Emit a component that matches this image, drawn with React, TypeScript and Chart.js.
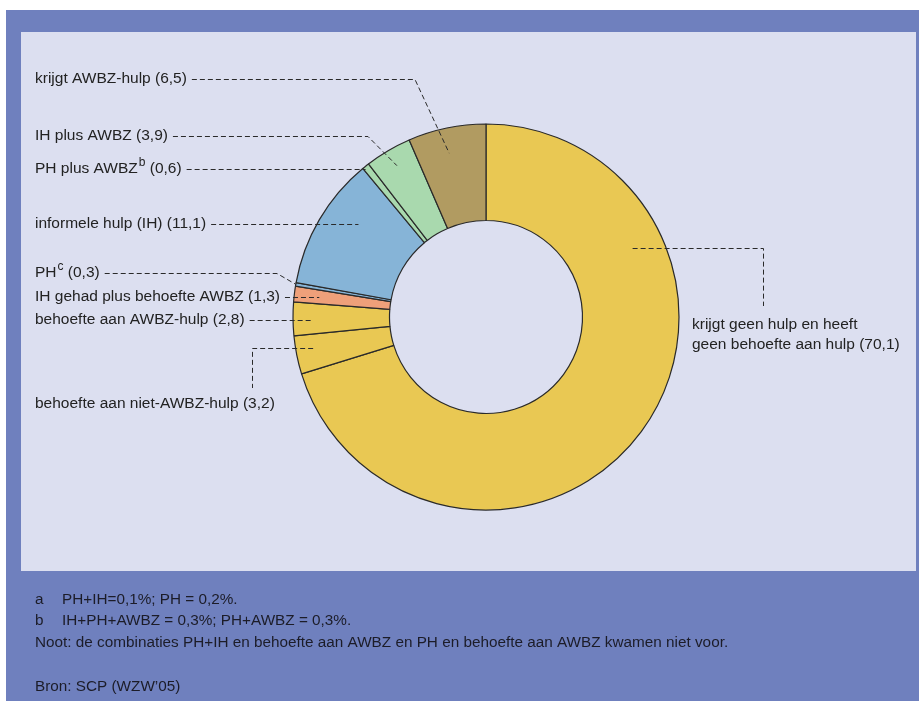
import React, { useEffect, useRef } from "react";
import { Chart, registerables } from "chart.js";
Chart.register(...registerables);

// ---- data ----
const categories = [
  "krijgt geen hulp en heeft geen behoefte aan hulp",
  "behoefte aan niet-AWBZ-hulp",
  "behoefte aan AWBZ-hulp",
  "IH gehad plus behoefte AWBZ",
  "PH",
  "informele hulp (IH)",
  "PH plus AWBZ",
  "IH plus AWBZ",
  "krijgt AWBZ-hulp",
];
const values = [70.1, 3.2, 2.8, 1.3, 0.3, 11.1, 0.6, 3.9, 6.5];
const valueLabels = ["70,1", "3,2", "2,8", "1,3", "0,3", "11,1", "0,6", "3,9", "6,5"];
const superscripts = ["", "", "", "", "c", "", "b", "", ""];
const footnoteKeys = ["a", "b", "", ""];
const footnoteTexts = [
  "PH+IH=0,1%; PH = 0,2%.",
  "IH+PH+AWBZ = 0,3%; PH+AWBZ = 0,3%.",
  "Noot: de combinaties PH+IH en behoefte aan AWBZ en PH en behoefte aan AWBZ kwamen niet voor.",
  "Bron: SCP (WZW\u201905)",
];

// ---- styles / layout ----
const colors = ["#e9c853", "#e9c853", "#e9c853", "#eea07a", "#86b4d7", "#86b4d7", "#a9d9ae", "#a9d9ae", "#b19b61"];
const W = 919;
const H = 701;
const FONT = "15.5px 'Liberation Sans', Arial, sans-serif";
const SUPFONT = "12px 'Liberation Sans', Arial, sans-serif";
const INK = "#222222";

type Lay = { x: number; y: number; frac: number; rf: number; kind: string; bx?: number; by?: number; multi?: string[] };
const layout: Lay[] = [
  { x: 692, y: 325, frac: 0.256, rf: 0.84, kind: "hv", bx: 763, by: 306, multi: ["krijgt geen hulp en heeft", "geen behoefte aan hulp (70,1)"] },
  { x: 35, y: 404, frac: 0.6, rf: 0.91, kind: "hvdown", bx: 252, by: 388 },
  { x: 35, y: 320, frac: 0.5, rf: 0.9, kind: "h" },
  { x: 35, y: 297, frac: 0.5, rf: 0.87, kind: "h" },
  { x: 35, y: 273, frac: 0.5, rf: 1.0, kind: "bend", bx: 277 },
  { x: 35, y: 224, frac: 0.65, rf: 0.82, kind: "h" },
  { x: 35, y: 169, frac: 0.5, rf: 1.0, kind: "h" },
  { x: 35, y: 136, frac: 0.5, rf: 0.91, kind: "bend", bx: 368 },
  { x: 35, y: 79, frac: 0.46, rf: 0.87, kind: "bend", bx: 415 },
];
const footY = [600, 621, 643, 687];

const px = (v: number) => Math.round(v) + 0.5;

const decor = {
  id: "decor",
  beforeDraw(chart: any) {
    const ctx = chart.ctx;
    ctx.save();
    ctx.fillStyle = "#ffffff";
    ctx.fillRect(0, 0, W, H);
    ctx.fillStyle = "#6f80be";
    ctx.fillRect(6, 10, W - 6, H - 10);
    ctx.fillStyle = "#dcdff0";
    ctx.fillRect(21, 32, 895, 539);
    ctx.restore();
  },
  afterDraw(chart: any) {
    const ctx = chart.ctx;
    const arcs = chart.getDatasetMeta(0).data;
    ctx.save();
    ctx.fillStyle = INK;
    ctx.strokeStyle = "#2a2a2a";
    ctx.lineWidth = 1;
    ctx.textBaseline = "middle";
    ctx.textAlign = "left";
    layout.forEach((L, i) => {
      const a: any = arcs[i];
      const ang = a.startAngle + L.frac * (a.endAngle - a.startAngle);
      const r = a.outerRadius * L.rf;
      const ax = a.x + Math.cos(ang) * r;
      const ay = a.y + Math.sin(ang) * r;
      let endX = L.x;
      ctx.font = FONT;
      if (L.multi) {
        L.multi.forEach((t, k) => ctx.fillText(t, L.x, L.y + k * 20));
      } else {
        const main = categories[i];
        ctx.fillText(main, L.x, L.y);
        endX = L.x + ctx.measureText(main).width;
        if (superscripts[i]) {
          ctx.font = SUPFONT;
          ctx.fillText(superscripts[i], endX + 1, L.y - 6);
          endX += ctx.measureText(superscripts[i]).width + 1;
          ctx.font = FONT;
        }
        const tail = " (" + valueLabels[i] + ")";
        ctx.fillText(tail, endX, L.y);
        endX += ctx.measureText(tail).width;
      }
      ctx.setLineDash([5, 3]);
      ctx.beginPath();
      const sx = endX + 5;
      const ly = px(L.y);
      if (L.kind === "h") {
        ctx.moveTo(sx, ly);
        ctx.lineTo(ax, ly);
      } else if (L.kind === "bend") {
        ctx.moveTo(sx, ly);
        ctx.lineTo(L.bx!, ly);
        ctx.lineTo(ax, ay);
      } else {
        ctx.moveTo(ax, px(ay));
        ctx.lineTo(px(L.bx!), px(ay));
        ctx.lineTo(px(L.bx!), L.by!);
      }
      ctx.stroke();
    });
    ctx.setLineDash([]);
    ctx.fillStyle = "#1c1c28";
    ctx.font = "15.3px 'Liberation Sans', Arial, sans-serif";
    footnoteTexts.forEach((t, k) => {
      if (footnoteKeys[k]) {
        ctx.fillText(footnoteKeys[k], 35, footY[k]);
        ctx.fillText(t, 62, footY[k]);
      } else {
        ctx.fillText(t, 35, footY[k]);
      }
    });
    ctx.restore();
  },
};

export default function App() {
  const ref = useRef<HTMLCanvasElement>(null);
  useEffect(() => {
    const chart = new Chart(ref.current!, {
      type: "doughnut",
      data: {
        labels: categories,
        datasets: [
          {
            data: values,
            backgroundColor: colors,
            borderColor: "#2a2a2a",
            borderWidth: 1.2,
          },
        ],
      },
      options: {
        responsive: false,
        animation: false,
        radius: 193,
        cutout: "50%",
        events: [],
        layout: { padding: { left: 153, right: 100, top: 50, bottom: 117 } },
        plugins: { legend: { display: false }, tooltip: { enabled: false } },
      } as any,
      plugins: [decor],
    });
    return () => chart.destroy();
  }, []);
  return (
    <div style={{ position: "absolute", left: 0, top: 0, width: W, height: H }}>
      <canvas ref={ref} width={W} height={H} style={{ width: W, height: H, display: "block" }} />
    </div>
  );
}
